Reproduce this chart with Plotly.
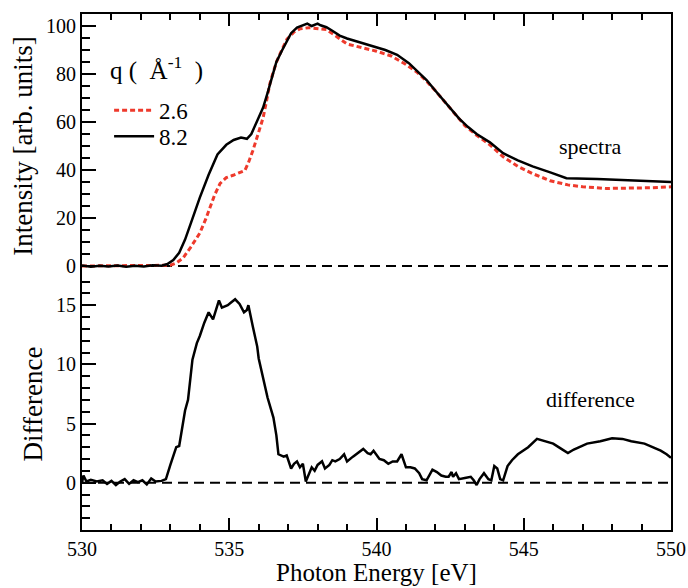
import plotly.graph_objects as go

# ---------------- data ----------------
energy_82 = [530.0, 530.3, 530.6, 530.9, 531.2, 531.5, 531.8, 532.1, 532.4, 532.7,
             532.9, 533.1, 533.3, 533.5, 533.7, 534.0, 534.3, 534.6, 534.9, 535.15,
             535.4, 535.6, 535.75, 535.95, 536.15, 536.3, 536.45, 536.6, 536.8, 536.95,
             537.1, 537.3, 537.5, 537.65, 537.8, 538.0, 538.1, 538.3, 538.5, 538.75,
             539.0, 539.5, 539.9, 540.3, 540.7, 541.1, 541.4, 541.7, 542.0, 542.25,
             542.5, 542.8, 543.1, 543.4, 543.85, 544.3, 544.8, 545.3, 545.9, 546.45,
             547.5, 548.5, 549.3, 550.0]
intensity_82 = [0.2, -0.3, 0.1, -0.2, 0.2, -0.3, 0.1, -0.2, 0.3, 0.1,
                0.8, 2.5, 5.5, 11.0, 18.0, 28.5, 38.0, 46.5, 50.5, 52.5,
                53.5, 53.0, 55.0, 60.5, 66.0, 72.0, 78.5, 85.0, 90.0, 93.5,
                97.0, 99.3, 100.2, 101.0, 100.0, 101.0, 100.3, 99.5, 98.0, 96.0,
                94.8, 93.0, 91.5, 90.0, 88.0, 84.5, 81.0, 77.5, 73.0, 69.5,
                66.0, 61.5, 58.0, 55.0, 51.5, 47.0, 44.0, 41.5, 39.0, 36.6,
                36.2, 35.8, 35.5, 35.0]

energy_26 = [530.0, 531.0, 532.0, 532.8, 533.0, 533.2, 533.43, 533.7, 534.0, 534.2,
             534.35, 534.5, 534.69, 534.9, 535.13, 535.35, 535.53, 535.65, 535.8, 535.98,
             536.15, 536.27, 536.38, 536.5, 536.62, 536.8, 536.96, 537.2, 537.4, 537.7,
             538.0, 538.3, 538.6, 539.0, 539.5, 540.0, 540.5, 541.0, 541.4, 541.7,
             542.0, 542.5, 543.0, 543.4, 543.85, 544.3, 544.8, 545.3, 545.9, 546.5,
             547.0, 547.8, 548.5, 549.3, 550.0]
intensity_26 = [0.0, 0.0, 0.0, 0.0, 0.3, 1.2, 3.3, 8.0, 13.7, 19.5,
                24.5, 29.5, 34.4, 36.8, 37.8, 38.8, 39.8, 43.0, 48.0, 55.0,
                61.8, 69.0, 76.0, 81.0, 85.5, 90.5, 94.5, 97.5, 98.8, 99.3,
                99.0, 98.5, 96.0, 92.5, 91.0, 89.5, 87.5, 84.0, 80.5, 77.0,
                73.0, 65.5, 58.5, 54.5, 50.5, 45.5, 41.5, 38.5, 35.5, 33.8,
                33.0, 32.3, 32.3, 32.6, 33.0]

energy_diff = [530.0, 530.05, 530.15, 530.3, 530.5, 530.7, 530.85, 531.0, 531.15, 531.3,
               531.45, 531.6, 531.75, 531.9, 532.05, 532.2, 532.35, 532.5, 532.7, 532.85,
               533.0, 533.2, 533.3, 533.5, 533.6, 533.75, 533.9, 534.0, 534.15, 534.3,
               534.45, 534.55, 534.65, 534.75, 534.85, 534.95, 535.05, 535.2, 535.35, 535.5,
               535.6, 535.65, 535.8, 535.95, 536.0, 536.15, 536.3, 536.5, 536.6, 536.67,
               536.85, 536.95, 537.1, 537.2, 537.3, 537.4, 537.5, 537.6, 537.7, 537.8,
               537.9, 538.0, 538.15, 538.25, 538.4, 538.5, 538.6, 538.75, 538.9, 539.0,
               539.2, 539.35, 539.55, 539.7, 539.8, 539.9, 540.1, 540.25, 540.4, 540.55,
               540.7, 540.85, 541.0, 541.15, 541.3, 541.45, 541.55, 541.7, 541.9, 542.05,
               542.2, 542.35, 542.45, 542.55, 542.6, 542.7, 542.8, 543.0, 543.2, 543.3,
               543.4, 543.5, 543.65, 543.8, 543.9, 544.0, 544.1, 544.2, 544.3, 544.45,
               544.6, 544.8, 545.15, 545.45, 545.7, 546.0, 546.25, 546.5, 546.7, 546.9,
               547.15, 547.6, 548.0, 548.35, 548.65, 549.1, 549.4, 549.65, 549.85, 550.0]
difference = [0.0, 0.6, 0.1, 0.25, 0.1, 0.2, -0.1, 0.15, -0.2, 0.1,
              0.3, -0.1, 0.2, 0.05, 0.2, -0.15, 0.35, 0.1, 0.15, 0.3,
              1.5, 3.0, 3.1, 6.1, 7.0, 10.4, 11.8, 12.4, 13.5, 14.4,
              13.8, 14.6, 15.4, 14.8, 14.9, 15.0, 15.2, 15.5, 15.1, 14.4,
              14.6, 15.0, 13.2, 11.5, 10.5, 8.9, 7.2, 5.5, 4.0, 2.4,
              2.2, 2.3, 1.2, 1.6, 1.8, 1.3, 1.6, 0.1, 0.7, 1.3,
              1.0, 1.5, 1.8, 1.2, 1.5, 1.9, 1.8, 2.0, 2.4, 1.8,
              2.2, 2.5, 2.85, 2.5, 2.4, 2.7, 2.0, 1.9, 1.6, 1.8,
              1.8, 2.4, 1.3, 1.3, 1.2, 0.8, 0.3, 0.2, 1.1, 0.9,
              0.6, 0.5, 0.5, 0.9, 0.5, 0.8, 0.3, 0.4, 0.5, 0.2,
              -0.2, 0.3, 0.8, 0.3, 0.2, 1.4, 1.2, 0.3, 0.2, 1.4,
              1.9, 2.4, 3.0, 3.7, 3.5, 3.3, 2.9, 2.5, 2.8, 3.0,
              3.3, 3.5, 3.75, 3.7, 3.5, 3.3, 3.0, 2.7, 2.4, 2.1]

zero_x = [530, 550]
zero_y = [0, 0]

series_names = ["2.6", "8.2"]
x_ticks = [530, 535, 540, 545, 550]

FONT = "Liberation Serif"
RED = "#ee3a2c"

fig = go.Figure()

# top panel
fig.add_trace(go.Scatter(x=zero_x, y=zero_y, xaxis="x2", yaxis="y2", mode="lines",
                         line=dict(color="black", width=2, dash="10px,6px"),
                         showlegend=False, hoverinfo="skip"))
fig.add_trace(go.Scatter(x=energy_26, y=intensity_26, xaxis="x2", yaxis="y2", mode="lines",
                         name=series_names[0], legend="legend",
                         line=dict(color=RED, width=3, dash="5px,3px")))
fig.add_trace(go.Scatter(x=energy_82, y=intensity_82, xaxis="x2", yaxis="y2", mode="lines",
                         name=series_names[1], legend="legend2",
                         line=dict(color="black", width=2.5)))

# bottom panel
fig.add_trace(go.Scatter(x=zero_x, y=zero_y, xaxis="x", yaxis="y", mode="lines",
                         line=dict(color="black", width=2, dash="10px,6px"),
                         showlegend=False, hoverinfo="skip"))
fig.add_trace(go.Scatter(x=energy_diff, y=difference, xaxis="x", yaxis="y", mode="lines",
                         line=dict(color="black", width=2.5), showlegend=False))

split = 0.4884
axis_common = dict(showline=True, linecolor="black", linewidth=2, showgrid=False,
                   zeroline=False, ticks="inside", tickcolor="black", tickwidth=1.5,
                   automargin=False,
                   tickfont=dict(family=FONT, size=20, color="black"))

fig.update_layout(
    width=688, height=588,
    margin=dict(l=82, r=17, t=14, b=58, autoexpand=False),
    paper_bgcolor="white", plot_bgcolor="white",
    font=dict(family=FONT, color="black"),
    xaxis=dict(axis_common, anchor="y", range=[530, 550], tickvals=x_ticks, ticklen=12,
               minor=dict(dtick=1, tick0=530, ticks="inside", ticklen=6, tickcolor="black", tickwidth=1.5)),
    xaxis2=dict(axis_common, anchor="y2", matches="x", range=[530, 550], side="top",
                tickvals=x_ticks, ticklen=12, showticklabels=False,
                minor=dict(dtick=1, tick0=530, ticks="inside", ticklen=6, tickcolor="black", tickwidth=1.5)),
    yaxis=dict(axis_common, domain=[0, split], range=[-4, 17.3], tick0=0, dtick=5, ticklen=14,
               mirror=True,
               minor=dict(dtick=1, tick0=0, ticks="inside", ticklen=8, tickcolor="black", tickwidth=1.5),
               title=dict(text="Difference", font=dict(family=FONT, size=27), standoff=6)),
    yaxis2=dict(axis_common, domain=[split, 1], range=[-5, 105], tick0=0, dtick=20, ticklen=14,
                mirror=True,
                minor=dict(dtick=5, tick0=0, ticks="inside", ticklen=8, tickcolor="black", tickwidth=1.5),
                title=dict(text="Intensity [arb. units]", font=dict(family=FONT, size=27), standoff=6)),
    legend=dict(x=0.046, y=0.8135, xanchor="left", yanchor="middle", bgcolor="rgba(0,0,0,0)",
                itemwidth=40,
                font=dict(family=FONT, size=23, color="black")),
    legend2=dict(x=0.046, y=0.763, xanchor="left", yanchor="middle", bgcolor="rgba(0,0,0,0)",
                 itemwidth=40,
                 font=dict(family=FONT, size=23, color="black")),
    annotations=[
        dict(text="Photon Energy [eV]", xref="paper", yref="paper", x=0.5, y=-0.1124,
             xanchor="center", yanchor="bottom", showarrow=False,
             font=dict(family=FONT, size=25, color="black")),
        dict(text="q\u00a0(\u00a0\u00a0Å<sup>-1</sup>\u00a0\u00a0)", xref="paper", yref="paper", x=0.044, y=0.895,
             xanchor="left", yanchor="middle", showarrow=False,
             font=dict(family=FONT, size=25, color="black")),
        dict(text="spectra", xref="x2", yref="y2", x=547.25, y=49.6, showarrow=False,
             font=dict(family=FONT, size=22, color="black")),
        dict(text="difference", xref="x", yref="y", x=547.25, y=7.0, showarrow=False,
             font=dict(family=FONT, size=22, color="black")),
    ],
)

fig.write_html("out.html")
